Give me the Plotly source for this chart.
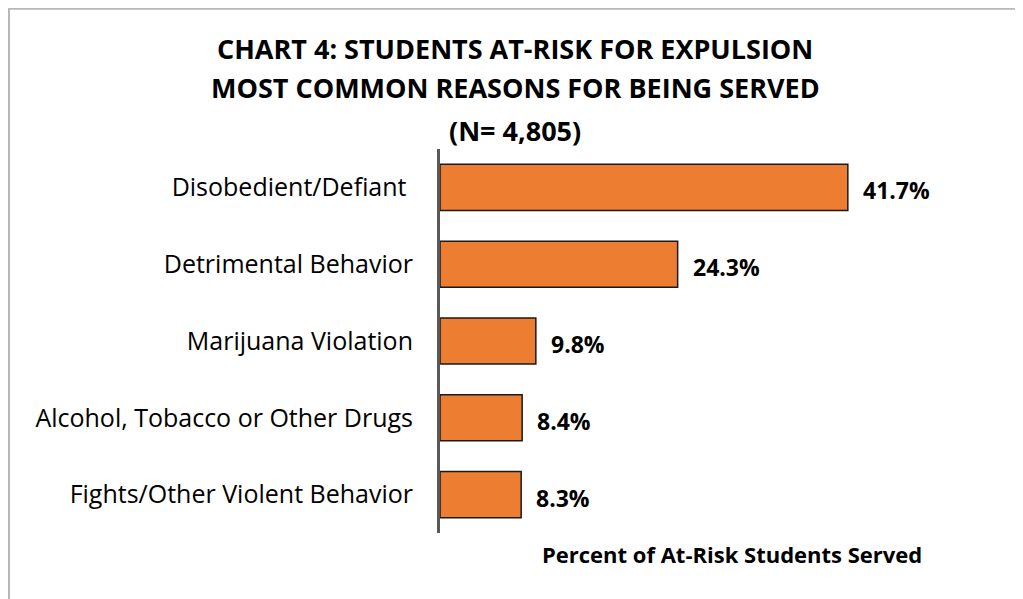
import plotly.graph_objects as go

categories = ["Disobedient/Defiant ", "Detrimental Behavior", "Marijuana Violation",
              "Alcohol, Tobacco or Other Drugs", "Fights/Other Violent Behavior"]
values = [41.7, 24.3, 9.8, 8.4, 8.3]
value_labels = ["41.7%", "24.3%", "9.8%", "8.4%", "8.3%"]
title_lines = ["CHART 4: STUDENTS AT-RISK FOR EXPULSION",
               "MOST COMMON REASONS FOR BEING SERVED",
               "(N= 4,805)"]
axis_title = "Percent of At-Risk Students Served"

FONT = "Open Sans"

# plot area in page pixels (figure coords)
L, T, W, H = 432, 140.5, 489, 385
FW, FH = 1023, 599


def px_x(p):
    return (p - L) / W


def px_y(p):
    return (T + H - p) / H


fig = go.Figure()
fig.add_trace(go.Bar(
    y=categories, x=values, orientation="h", width=0.6,
    marker=dict(color="#ED7D31", line=dict(color="#1a1a1a", width=1.5)),
    hoverinfo="skip",
))

for c, v, t in zip(categories, values, value_labels):
    fig.add_annotation(x=v, y=c, text="<b>%s</b>" % t, showarrow=False,
                       xanchor="left", xshift=13, yshift=-3,
                       font=dict(family=FONT, size=23, color="#000000"))

fig.add_annotation(xref="paper", yref="paper", x=px_x(724), y=px_y(547),
                   text="<b>%s</b>" % axis_title, showarrow=False,
                   xanchor="center", yanchor="middle",
                   font=dict(family=FONT, size=22, color="#000000"))

for i, (line, yc) in enumerate(zip(title_lines, [40, 79, 122])):
    fig.add_annotation(xref="paper", yref="paper", x=px_x(507), y=px_y(yc),
                       text="<b>%s</b>" % line, showarrow=False,
                       xanchor="center", yanchor="middle",
                       font=dict(family=FONT, size=27, color="#000000"))

fig.add_shape(type="rect", xref="paper", yref="paper",
              x0=px_x(1), x1=px_x(1100), y0=px_y(700), y1=px_y(0),
              line=dict(color="#b8b8b8", width=2), fillcolor="rgba(0,0,0,0)", layer="below")

fig.update_layout(
    width=FW, height=FH,
    margin=dict(l=L, r=FW - L - W, t=T, b=FH - T - H),
    paper_bgcolor="white", plot_bgcolor="white",
    showlegend=False,
    xaxis=dict(range=[0, 50], showgrid=False, zeroline=False, showticklabels=False,
               showline=False, fixedrange=True),
    yaxis=dict(autorange="reversed", showgrid=False, zeroline=False,
               showline=True, linecolor="#595959", linewidth=3,
               ticks="", ticklabelstandoff=19,
               tickfont=dict(family=FONT, size=25, color="#000000"), fixedrange=True),
)

fig.write_html("out.html")
